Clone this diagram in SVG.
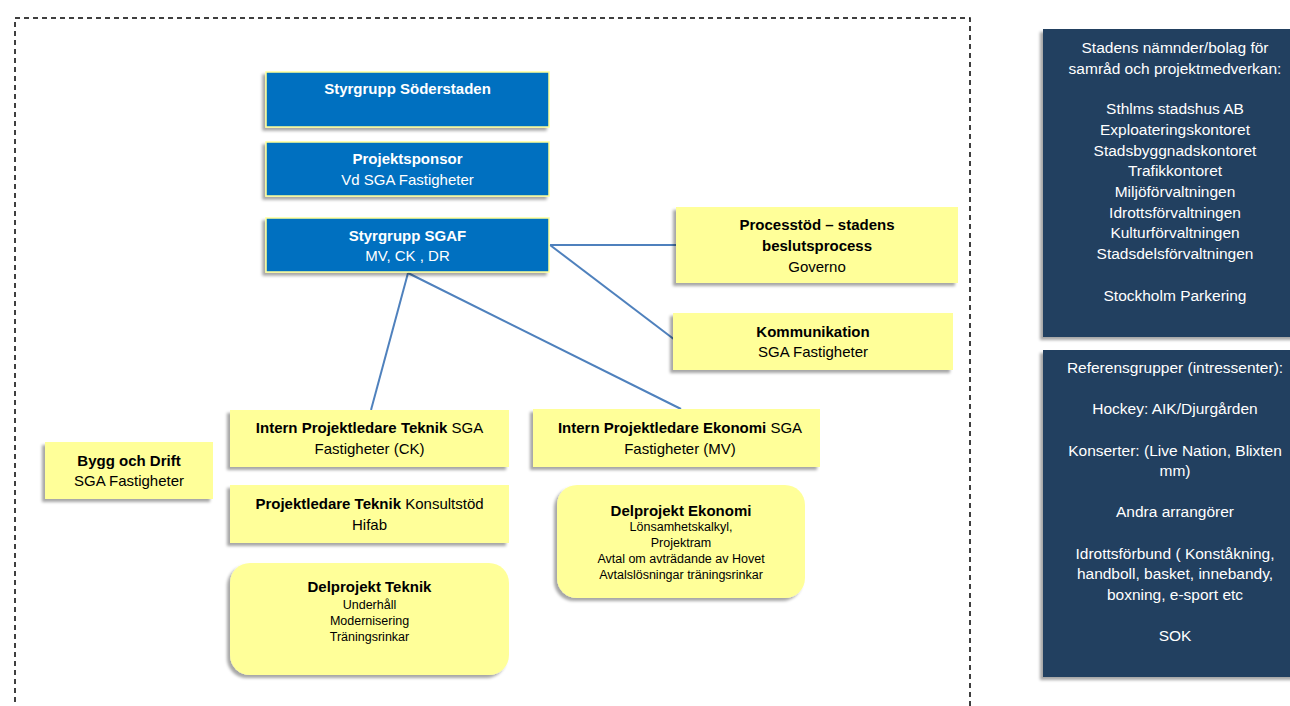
<svg xmlns="http://www.w3.org/2000/svg" width="1290" height="706" viewBox="0 0 1290 706">
<defs>
<filter id="sh" x="-10%" y="-10%" width="120%" height="130%">
<feDropShadow dx="-3" dy="3" stdDeviation="1.8" flood-color="#000" flood-opacity="0.35"/>
</filter>
<style>
text{font-family:"Liberation Sans",Arial,sans-serif;text-anchor:middle}
.blue{fill:#0070C0;stroke:#FFFF99;stroke-width:1.5;filter:url(#sh)}
.yel{fill:#FFFF99;filter:url(#sh)}
.dark{fill:#243F60;filter:url(#sh)}
.w{fill:#fff;font-size:15px}
.k{fill:#000;font-size:15px}
.s{fill:#000;font-size:12.5px}
.r{fill:#fff;font-size:15.5px}
.b{font-weight:bold}
.conn line{stroke:#4F81BD;stroke-width:2}
</style>
</defs>
<rect width="1290" height="706" fill="#fff"/>
<path d="M15,720 V18 H970 V720" fill="none" stroke="#000" stroke-width="1.5" stroke-dasharray="5,4"/>

<g id="connectors" class="conn">
<line x1="550" y1="245" x2="677" y2="245"/>
<line x1="550" y1="245" x2="675" y2="340"/>
<line x1="408" y1="273" x2="371" y2="410"/>
<line x1="408" y1="273" x2="681" y2="409"/>
</g>

<g id="styrgrupp-soderstaden">
<rect class="blue" x="266" y="72" width="283" height="55"/>
<text class="w b" x="407.5" y="94">Styrgrupp Söderstaden</text>
</g>
<g id="projektsponsor">
<rect class="blue" x="266" y="142" width="283" height="54"/>
<text class="w b" x="407.5" y="164">Projektsponsor</text>
<text class="w" x="407.5" y="185">Vd SGA Fastigheter</text>
</g>
<g id="styrgrupp-sgaf">
<rect class="blue" x="266" y="218" width="283" height="54"/>
<text class="w b" x="407.5" y="241">Styrgrupp SGAF</text>
<text class="w" x="407.5" y="261">MV, CK , DR</text>
</g>
<g id="processtod">
<rect class="yel" x="676" y="207" width="282" height="76"/>
<text class="k b" x="817" y="230">Processtöd – stadens</text>
<text class="k b" x="817" y="251">beslutsprocess</text>
<text class="k" x="817" y="272">Governo</text>
</g>
<g id="kommunikation">
<rect class="yel" x="673" y="313" width="280" height="57"/>
<text class="k b" x="813" y="337">Kommunikation</text>
<text class="k" x="813" y="357">SGA Fastigheter</text>
</g>
<g id="intern-teknik">
<rect class="yel" x="230" y="410" width="279" height="57"/>
<text class="k" x="369.5" y="433"><tspan class="b">Intern Projektledare Teknik</tspan> SGA</text>
<text class="k" x="369.5" y="454">Fastigheter (CK)</text>
</g>
<g id="intern-ekonomi">
<rect class="yel" x="533" y="409" width="287" height="58"/>
<text class="k" x="680" y="433"><tspan class="b">Intern Projektledare Ekonomi</tspan> SGA</text>
<text class="k" x="680" y="454">Fastigheter (MV)</text>
</g>
<g id="bygg-och-drift">
<rect class="yel" x="45" y="442" width="168" height="57"/>
<text class="k b" x="129" y="466">Bygg och Drift</text>
<text class="k" x="129" y="486">SGA Fastigheter</text>
</g>
<g id="projektledare-teknik">
<rect class="yel" x="230" y="485" width="279" height="58"/>
<text class="k" x="369.5" y="509"><tspan class="b">Projektledare Teknik</tspan> Konsultstöd</text>
<text class="k" x="369.5" y="530">Hifab</text>
</g>
<g id="delprojekt-teknik">
<rect class="yel" x="230" y="563" width="279" height="112" rx="20"/>
<text class="k b" x="369.5" y="592">Delprojekt Teknik</text>
<text class="s" x="369.5" y="609">Underhåll</text>
<text class="s" x="369.5" y="625">Modernisering</text>
<text class="s" x="369.5" y="641">Träningsrinkar</text>
</g>
<g id="delprojekt-ekonomi">
<rect class="yel" x="557" y="485" width="248" height="113" rx="20"/>
<text class="k b" x="681" y="516">Delprojekt Ekonomi</text>
<text class="s" x="681" y="531">Lönsamhetskalkyl,</text>
<text class="s" x="681" y="547">Projektram</text>
<text class="s" x="681" y="563">Avtal om avträdande av Hovet</text>
<text class="s" x="681" y="579">Avtalslösningar träningsrinkar</text>
</g>
<g id="stadens-namnder">
<rect class="dark" x="1043" y="29" width="260" height="308"/>
<text class="r" x="1175" y="53">Stadens nämnder/bolag för</text>
<text class="r" x="1175" y="74">samråd och projektmedverkan:</text>
<text class="r" x="1175" y="114">Sthlms stadshus AB</text>
<text class="r" x="1175" y="135">Exploateringskontoret</text>
<text class="r" x="1175" y="156">Stadsbyggnadskontoret</text>
<text class="r" x="1175" y="176">Trafikkontoret</text>
<text class="r" x="1175" y="197">Miljöförvaltningen</text>
<text class="r" x="1175" y="218">Idrottsförvaltningen</text>
<text class="r" x="1175" y="238">Kulturförvaltningen</text>
<text class="r" x="1175" y="259">Stadsdelsförvaltningen</text>
<text class="r" x="1175" y="301">Stockholm Parkering</text>
</g>
<g id="referensgrupper">
<rect class="dark" x="1043" y="350" width="260" height="327"/>
<text class="r" x="1175" y="373">Referensgrupper (intressenter):</text>
<text class="r" x="1175" y="414">Hockey: AIK/Djurgården</text>
<text class="r" x="1175" y="456">Konserter: (Live Nation, Blixten</text>
<text class="r" x="1175" y="476">mm)</text>
<text class="r" x="1175" y="517">Andra arrangörer</text>
<text class="r" x="1175" y="559">Idrottsförbund ( Konståkning,</text>
<text class="r" x="1175" y="579">handboll, basket, innebandy,</text>
<text class="r" x="1175" y="600">boxning, e-sport etc</text>
<text class="r" x="1175" y="641">SOK</text>
</g>
</svg>
